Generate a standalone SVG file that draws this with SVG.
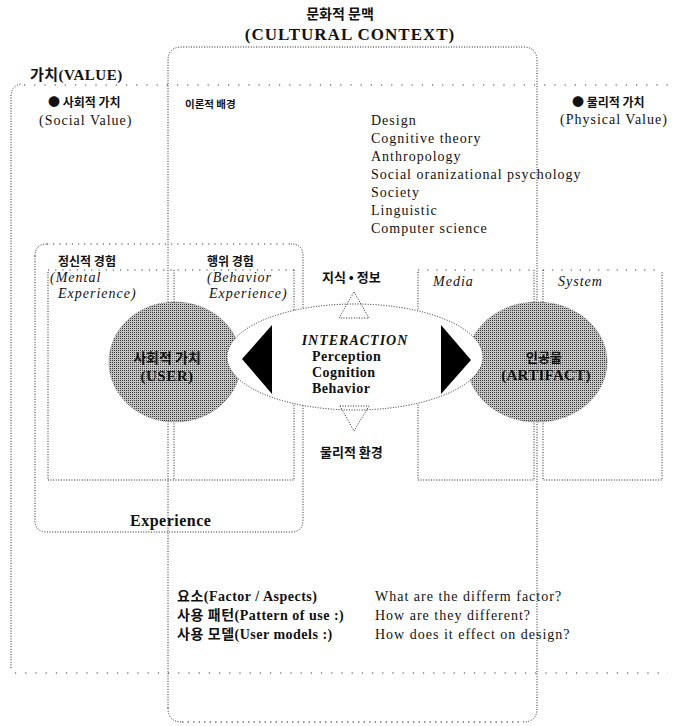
<svg xmlns="http://www.w3.org/2000/svg" width="680" height="726" viewBox="0 0 680 726">
<style>
.dot{fill:none;stroke:#222;stroke-width:1;stroke-dasharray:1 1.6}
.sparse{fill:none;stroke:#333;stroke-width:1;stroke-dasharray:1.2 9}
.kr{font-family:"Noto Sans CJK KR","Noto Sans",sans-serif;font-weight:bold;fill:#111}
.sf{font-family:"Liberation Serif","Noto Sans CJK KR",serif;fill:#111;letter-spacing:1px}
.b{font-weight:bold}
.i{font-style:italic}
</style>
<defs>
<pattern id="ht" width="2" height="2" patternUnits="userSpaceOnUse">
<rect width="2" height="2" fill="#c4c4c4"/>
<rect width="1" height="1" fill="#3a3a3a"/>
</pattern>
</defs>
<rect width="680" height="726" fill="#fff"/>

<g id="value-frame">
<path class="dot" d="M11 668 V96 Q11 86 21 84"/>
<path class="sparse" d="M24 85 H672"/>
<path class="sparse" d="M15 673 H668"/>
<text class="sf b" x="30" y="80" font-size="15" style="letter-spacing:0.5px">가치(VALUE)</text>
<text class="kr" x="48" y="107" font-size="12">● 사회적 가치</text>
<text class="sf" x="39" y="125" font-size="14">(Social Value)</text>
<text class="kr" x="572" y="107" font-size="12">● 물리적 가치</text>
<text class="sf" x="560" y="124" font-size="14">(Physical Value)</text>
</g>

<g id="cultural-context">
<text class="kr" x="340" y="19" font-size="14" text-anchor="middle">문화적 문맥</text>
<text class="sf b" x="350" y="40" font-size="17" text-anchor="middle">(CULTURAL CONTEXT)</text>
<path class="dot" d="M168 708 V61 Q168 47 182 47 H523 Q537 47 537 61 V708"/>
<path class="dot" d="M168 708 Q168 722 182 722" />
<path class="dot" d="M523 722 Q537 722 537 708" />
<path class="sparse" style="stroke-dasharray:1.5 4" d="M182 722 H523"/>
<text class="kr" x="185" y="108" font-size="10.5">이론적 배경</text>
<g class="sf" font-size="14">
<text x="371" y="125">Design</text>
<text x="371" y="143">Cognitive theory</text>
<text x="371" y="161">Anthropology</text>
<text x="371" y="179">Social oranizational psychology</text>
<text x="371" y="197">Society</text>
<text x="371" y="215">Linguistic</text>
<text x="371" y="233">Computer science</text>
</g>
</g>

<g id="experience">
<path class="dot" d="M35 256 V520 Q35 532 47 532 H291 Q303 532 303 520 V256 Q303 244 291 244"/>
<path class="dot" d="M35 256 Q35 244 47 244"/>
<path class="sparse" style="stroke-dasharray:1.2 5" d="M47 244 H291"/>
<path class="dot" d="M48 272 V480 H294 V270"/>
<path class="sparse" style="stroke-dasharray:1.2 6" d="M48 270 H294"/>
<path class="dot" d="M174 270 V480"/>
<text class="kr" x="58" y="266" font-size="12">정신적 경험</text>
<text class="sf i" x="50" y="282" font-size="14">(Mental</text>
<text class="sf i" x="58" y="298" font-size="14">Experience)</text>
<text class="kr" x="207" y="266" font-size="12">행위 경험</text>
<text class="sf i" x="207" y="282" font-size="14">(Behavior</text>
<text class="sf i" x="209" y="298" font-size="14">Experience)</text>
<text class="sf b" x="130" y="526" font-size="16" style="letter-spacing:0.5px">Experience</text>
</g>

<g id="artifact-boxes">
<path class="dot" d="M418 272 V480 H534 V270"/>
<path class="dot" d="M543 270 V480 H662 V272"/>
<path class="sparse" style="stroke-dasharray:1.2 8" d="M418 270 H534 M543 270 H662"/>
<text class="sf i" x="433" y="286" font-size="14">Media</text>
<text class="sf i" x="558" y="286" font-size="14">System</text>
</g>

<g id="user">
<ellipse cx="175" cy="362" rx="66" ry="60" fill="url(#ht)" stroke="#666" stroke-width="1" stroke-dasharray="1 1.5"/>
</g>
<g id="artifact">
<ellipse cx="537" cy="362" rx="70" ry="60" fill="url(#ht)" stroke="#666" stroke-width="1" stroke-dasharray="1 1.5"/>
</g>

<g id="interaction">
<ellipse cx="355" cy="357" rx="128" ry="53" class="dot" style="fill:#fff"/>
<text class="sf b i" x="355" y="345" font-size="14" text-anchor="middle">INTERACTION</text>
<text class="sf b" x="312" y="361" font-size="14" style="letter-spacing:0.5px">Perception</text>
<text class="sf b" x="312" y="377" font-size="14" style="letter-spacing:0.5px">Cognition</text>
<text class="sf b" x="312" y="393" font-size="14" style="letter-spacing:0.5px">Behavior</text>
</g>

<g id="connectors">
<polygon points="242,359 272,325 272,394" fill="#000"/>
<polygon points="441,325 471,360 441,394" fill="#000"/>
<polygon class="dot" points="354,292 369,318 339,318"/>
<polygon class="dot" points="340,406 369,406 354,431"/>
</g>

<g id="labels">
<text class="kr" x="167" y="363" font-size="14" text-anchor="middle">사회적 가치</text>
<text class="sf b" x="167" y="381" font-size="15" text-anchor="middle" style="letter-spacing:0.5px">(USER)</text>
<text class="kr" x="544" y="362" font-size="13" text-anchor="middle">인공물</text>
<text class="sf b" x="546" y="380" font-size="15" text-anchor="middle" style="letter-spacing:0.3px">(ARTIFACT)</text>
<text class="kr" x="322" y="282" font-size="13">지식 • 정보</text>
<text class="kr" x="320" y="457" font-size="13">물리적 환경</text>
</g>

<g id="questions">
<g class="sf b" font-size="14" style="letter-spacing:0.5px">
<text x="177" y="601">요소(Factor / Aspects)</text>
<text x="177" y="620">사용 패턴(Pattern of use :)</text>
<text x="177" y="639">사용 모델(User models :)</text>
</g>
<g class="sf" font-size="14">
<text x="375" y="601">What are the differm factor?</text>
<text x="375" y="620">How are they different?</text>
<text x="375" y="639">How does it effect on design?</text>
</g>
</g>
</svg>
